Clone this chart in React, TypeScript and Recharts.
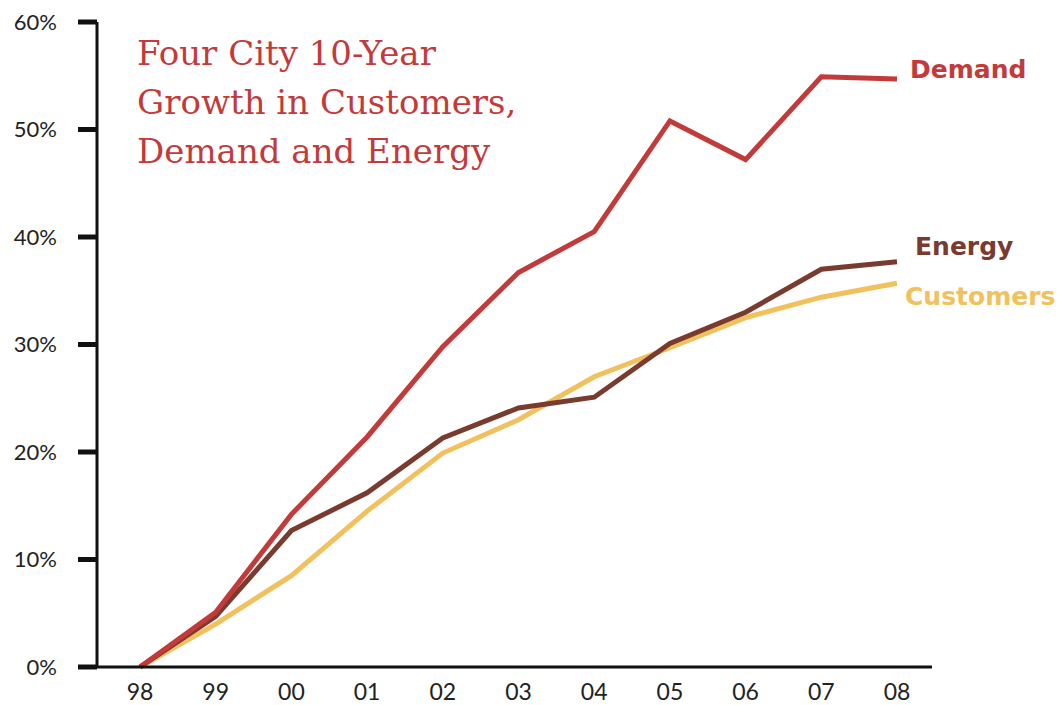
import { LineChart, Line, XAxis, YAxis } from "recharts";

const YEARS = ["98", "99", "00", "01", "02", "03", "04", "05", "06", "07", "08"];
const DEMAND = [0, 5.1, 14.2, 21.4, 29.8, 36.7, 40.5, 50.8, 47.2, 54.9, 54.7];
const ENERGY = [0, 4.7, 12.7, 16.2, 21.3, 24.1, 25.1, 30.1, 33.0, 37.0, 37.7];
const CUSTOMERS = [0, 4.0, 8.5, 14.5, 19.9, 23.0, 27.0, 29.7, 32.5, 34.4, 35.7];
const Y_TICKS = [0, 10, 20, 30, 40, 50, 60];
const TITLE_LINES = ["Four City 10-Year", "Growth in Customers,", "Demand and Energy"];

const data = YEARS.map((year, i) => ({
  year,
  demand: DEMAND[i],
  energy: ENERGY[i],
  customers: CUSTOMERS[i],
}));

const RED = "#c23a3a";
const BROWN = "#7a3b2f";
const GOLD = "#f1c15e";

// draws the series name next to the final point only
const endLabel = (name: string, color: string, dx: number, dy: number) =>
  (props: any) => {
    const { x, y, index } = props;
    if (index !== YEARS.length - 1) return null;
    return (
      <text
        x={x + dx}
        y={y + dy}
        dominantBaseline="central"
        fill={color}
        fontFamily="'DejaVu Sans', sans-serif"
        fontWeight="bold"
        fontSize={25}
      >
        {name}
      </text>
    );
  };

const App = () => {
  return (
    <div style={{ position: "absolute", left: 0, top: 0, width: 1058, height: 705, background: "#fff" }}>
      <LineChart
        width={1058}
        height={705}
        data={data}
        margin={{ top: 22, right: 126, bottom: 0, left: 0 }}
      >
        <XAxis
          dataKey="year"
          padding={{ left: 43, right: 35 }}
          height={38}
          tickLine={false}
          tickMargin={11}
          axisLine={{ stroke: "#111", strokeWidth: 3 }}
          tick={{ fontSize: 23, fill: "#222", fontFamily: "Lato, sans-serif" }}
        />
        <YAxis
          type="number"
          domain={[0, 60]}
          ticks={Y_TICKS}
          width={97}
          tickSize={19}
          tickMargin={21}
          tickFormatter={(v: number) => `${v}%`}
          axisLine={{ stroke: "#111", strokeWidth: 3 }}
          tickLine={{ stroke: "#111", strokeWidth: 5 }}
          tick={{ fontSize: 22, fill: "#222", fontFamily: "Lato, sans-serif" }}
        />
        <Line
          dataKey="customers"
          stroke={GOLD}
          strokeWidth={5}
          dot={false}
          isAnimationActive={false}
          label={endLabel("Customers", GOLD, 8, 13)}
        />
        <Line
          dataKey="energy"
          stroke={BROWN}
          strokeWidth={5}
          dot={false}
          isAnimationActive={false}
          label={endLabel("Energy", BROWN, 18, -15)}
        />
        <Line
          dataKey="demand"
          stroke={RED}
          strokeWidth={5}
          dot={false}
          isAnimationActive={false}
          label={endLabel("Demand", RED, 13, -9)}
        />
      </LineChart>
      <div
        style={{
          position: "absolute",
          left: 137,
          top: 29,
          color: RED,
          fontFamily: "'DejaVu Serif', serif",
          fontSize: 34,
          lineHeight: "49px",
          whiteSpace: "nowrap",
        }}
      >
        {TITLE_LINES.map((line) => (
          <div key={line}>{line}</div>
        ))}
      </div>
    </div>
  );
};

export default App;
